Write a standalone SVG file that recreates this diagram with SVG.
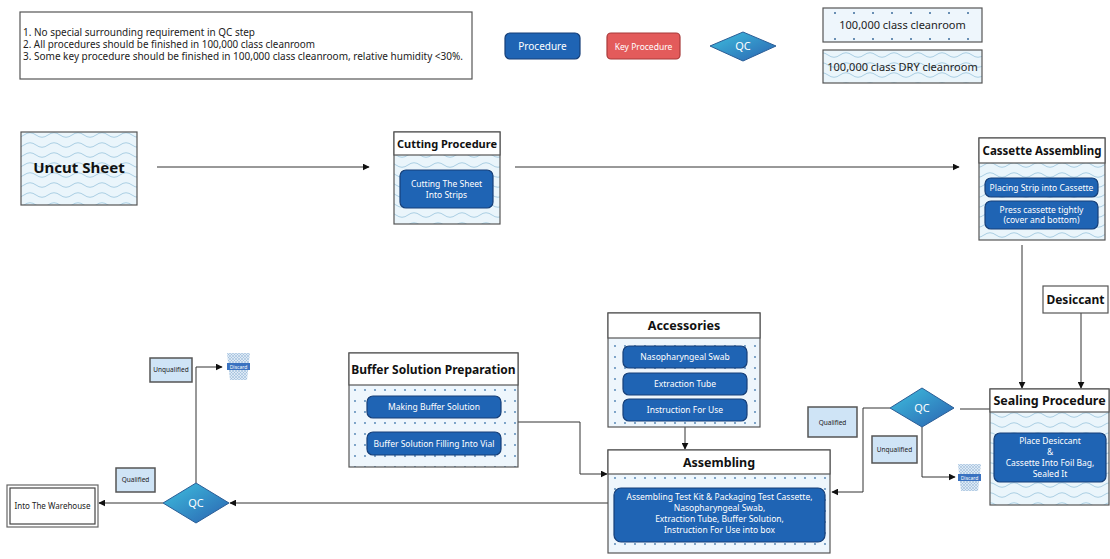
<svg xmlns="http://www.w3.org/2000/svg" width="1110" height="559" viewBox="0 0 1110 559">
<style>
.frame{fill:none;stroke:#555;stroke-width:1.2}
.hdrbg{fill:#fff;stroke:#555;stroke-width:1.2}
.hdr{font-family:"Noto Sans","Open Sans",sans-serif;font-weight:bold;font-size:12px;fill:#111;text-anchor:middle}
.proc{fill:#1f64b4;stroke:#163f78;stroke-width:1.2}
.pt{font-family:"Noto Sans","Open Sans",sans-serif;font-size:8.5px;fill:#fff;text-anchor:middle}
.lbl{fill:#cfe4f6;stroke:#555;stroke-width:1.5}
.lt{font-family:"Noto Sans","Open Sans",sans-serif;font-size:6.5px;fill:#222;text-anchor:middle}
.conn{fill:none;stroke:#333;stroke-width:1}
.leg{font-family:"Noto Sans","Open Sans",sans-serif;font-size:10px;fill:#222}
.qc{fill:url(#qcg);stroke:#2a5d96;stroke-width:1}
.qct{font-family:"Noto Sans","Open Sans",sans-serif;font-size:11px;fill:#fff;text-anchor:middle}
</style>
<defs>
<pattern id="wave" width="24" height="10" patternUnits="userSpaceOnUse">
<rect width="24" height="10" fill="#eaf5fb"/>
<path d="M0 5 Q6 0.5 12 5 T24 5" fill="none" stroke="#a3cae0" stroke-width="0.9"/>
</pattern>
<pattern id="dots" width="10" height="11" patternUnits="userSpaceOnUse">
<rect width="10" height="11" fill="#eef6fc"/>
<circle cx="5" cy="5" r="0.9" fill="#4a7fb0"/>
</pattern>
<pattern id="dots2" width="19" height="26" patternUnits="userSpaceOnUse" x="823" y="8">
<rect width="19" height="26" fill="#eef6fc"/>
<circle cx="12" cy="5" r="1" fill="#3c6d9c"/>
<circle cx="12" cy="31" r="1" fill="#3c6d9c"/>
</pattern>
<pattern id="hatch" width="3" height="3" patternUnits="userSpaceOnUse">
<rect width="3" height="3" fill="#dde9f5"/>
<path d="M0 0 L3 3 M3 0 L0 3" stroke="#8fb2d4" stroke-width="0.5"/>
</pattern>
<linearGradient id="qcg" x1="0" y1="0" x2="1" y2="1">
<stop offset="0" stop-color="#3ec0df"/>
<stop offset="1" stop-color="#2a62b0"/>
</linearGradient>
<marker id="arr" viewBox="0 0 10 10" refX="9" refY="5" markerWidth="7" markerHeight="7" orient="auto" markerUnits="userSpaceOnUse">
<path d="M0 0 L10 5 L0 10 Z" fill="#111"/>
</marker>
<g id="discard">
<path d="M0 0 L23 0 L20 27 L3 27 Z" fill="url(#hatch)"/>
<rect x="0" y="10" width="23" height="7" fill="#3a72c0"/>
<text x="11.5" y="15.5" font-family="Noto Sans, sans-serif" font-size="5px" fill="#fff" text-anchor="middle">Discard</text>
</g>
</defs>
<rect width="1110" height="559" fill="#fff"/>

<!-- legend -->
<g id="legend-notes">
<rect x="20" y="12" width="452" height="67" fill="#fff" stroke="#555" stroke-width="1.2"/>
<text class="leg" x="23" y="36" textLength="232" lengthAdjust="spacingAndGlyphs">1. No special surrounding requirement in QC step</text>
<text class="leg" x="23" y="48" textLength="292" lengthAdjust="spacingAndGlyphs">2. All procedures should be finished in 100,000 class cleanroom</text>
<text class="leg" x="23" y="60" textLength="440" lengthAdjust="spacingAndGlyphs">3. Some key procedure should be finished in 100,000 class cleanroom, relative humidity &lt;30%.</text>
</g>
<g id="legend-procedure">
<rect class="proc" x="505" y="33" width="75" height="26" rx="5"/>
<text class="pt" x="542.5" y="50" style="font-size:10px">Procedure</text>
</g>
<g id="legend-key">
<rect x="607" y="33" width="73" height="26" rx="4" fill="#e35b5b" stroke="#a83a3a" stroke-width="1.2"/>
<text class="pt" x="643.5" y="49.5" style="font-size:8.5px">Key Procedure</text>
</g>
<g id="legend-qc">
<polygon class="qc" points="710,46 743,32 776,46 743,61"/>
<text class="qct" x="743" y="50">QC</text>
</g>
<g id="legend-clean">
<rect x="823" y="8" width="159" height="34" fill="url(#dots2)" stroke="#555" stroke-width="1.2"/>
<text x="902.5" y="29" font-family="Noto Sans, sans-serif" font-size="11px" fill="#222" text-anchor="middle">100,000 class cleanroom</text>
</g>
<g id="legend-dry">
<rect x="823" y="50" width="159" height="33" fill="url(#wave)" stroke="#555" stroke-width="1.2"/>
<text x="902.5" y="71" font-family="Noto Sans, sans-serif" font-size="11px" fill="#222" text-anchor="middle">100,000 class DRY cleanroom</text>
</g>

<!-- connectors -->
<g id="connectors">
<line class="conn" x1="157" y1="167" x2="369" y2="167" marker-end="url(#arr)"/>
<line class="conn" x1="515" y1="167" x2="959" y2="167" marker-end="url(#arr)"/>
<line class="conn" x1="1022" y1="245" x2="1022" y2="388" marker-end="url(#arr)"/>
<line class="conn" x1="1081" y1="313" x2="1081" y2="388" marker-end="url(#arr)"/>
<line class="conn" x1="960" y1="409" x2="990" y2="409"/>
<polyline class="conn" points="890,408 863,408 863,492 832,492" marker-end="url(#arr)"/>
<polyline class="conn" points="922,427 922,477 955,477" marker-end="url(#arr)"/>
<line class="conn" x1="685" y1="427" x2="685" y2="449" marker-end="url(#arr)"/>
<line class="conn" x1="434" y1="418" x2="434" y2="431" marker-end="url(#arr)"/>
<polyline class="conn" points="518,422 580,422 580,474 607,474" marker-end="url(#arr)"/>
<line class="conn" x1="608" y1="503" x2="230" y2="503" marker-end="url(#arr)"/>
<line class="conn" x1="163" y1="503" x2="99" y2="503" marker-end="url(#arr)"/>
<polyline class="conn" points="196,483 196,367 222,367" marker-end="url(#arr)"/>
</g>

<!-- nodes -->
<g id="uncut-sheet">
<rect x="21" y="132" width="116" height="73" fill="url(#wave)" stroke="#555" stroke-width="1.2"/>
<text x="79" y="173" font-family="Noto Sans, sans-serif" font-weight="bold" font-size="15px" fill="#111" text-anchor="middle">Uncut Sheet</text>
</g>

<g id="cutting-procedure">
<rect x="394" y="132" width="106" height="92" fill="url(#wave)" stroke="#555" stroke-width="1.2"/>
<rect class="hdrbg" x="394" y="132" width="106" height="23"/>
<text class="hdr" x="447" y="148" style="font-size:11px">Cutting Procedure</text>
<rect class="proc" x="400" y="170" width="93" height="38" rx="6"/>
<text class="pt" x="446.5" y="187">Cutting The Sheet</text>
<text class="pt" x="446.5" y="198">Into Strips</text>
</g>

<g id="cassette-assembling">
<rect x="979" y="138" width="126" height="102" fill="url(#wave)" stroke="#555" stroke-width="1.2"/>
<rect class="hdrbg" x="979" y="138" width="126" height="25"/>
<text class="hdr" x="1042" y="155" style="font-size:11.5px">Cassette Assembling</text>
<rect class="proc" x="985" y="178" width="113" height="19" rx="6"/>
<text class="pt" x="1041.5" y="190.5">Placing Strip into Cassette</text>
<rect class="proc" x="985" y="201" width="113" height="28" rx="6"/>
<text class="pt" x="1041.5" y="212.5">Press cassette tightly</text>
<text class="pt" x="1041.5" y="223">(cover and bottom)</text>
</g>

<g id="desiccant">
<rect x="1043" y="286" width="65" height="27" fill="#fff" stroke="#555" stroke-width="1.2"/>
<text class="hdr" x="1075.5" y="304">Desiccant</text>
</g>

<g id="sealing-procedure">
<rect x="990" y="389" width="119" height="116" fill="url(#wave)" stroke="#555" stroke-width="1.2"/>
<rect class="hdrbg" x="990" y="389" width="119" height="23"/>
<text class="hdr" x="1049.5" y="405" style="font-size:12.5px">Sealing Procedure</text>
<rect class="proc" x="994" y="433" width="112" height="49" rx="6"/>
<text class="pt" x="1050" y="444">Place Desiccant</text>
<text class="pt" x="1050" y="455">&amp;</text>
<text class="pt" x="1050" y="466">Cassette Into Foil Bag,</text>
<text class="pt" x="1050" y="477">Sealed It</text>
</g>

<g id="qc-right">
<polygon class="qc" points="890,408 922,388 954,408 922,427"/>
<text class="qct" x="922" y="412">QC</text>
</g>
<g id="qualified-right">
<rect class="lbl" x="808" y="407" width="49" height="30"/>
<text class="lt" x="832.5" y="424.5">Qualified</text>
</g>
<g id="unqualified-right">
<rect class="lbl" x="872" y="436" width="45" height="27"/>
<text class="lt" x="894.5" y="452">Unqualified</text>
</g>
<g id="discard-right">
<use href="#discard" x="958" y="464"/>
</g>

<g id="accessories">
<rect x="608" y="313" width="152" height="114" fill="url(#dots)" stroke="#555" stroke-width="1.2"/>
<rect class="hdrbg" x="608" y="313" width="152" height="25"/>
<text class="hdr" x="684" y="330" style="font-size:12.5px">Accessories</text>
<rect class="proc" x="623" y="346" width="124" height="22" rx="6"/>
<text class="pt" x="685" y="360">Nasopharyngeal Swab</text>
<rect class="proc" x="623" y="373" width="124" height="22" rx="6"/>
<text class="pt" x="685" y="387">Extraction Tube</text>
<rect class="proc" x="623" y="399" width="124" height="22" rx="6"/>
<text class="pt" x="685" y="413">Instruction For Use</text>
</g>

<g id="assembling">
<rect x="608" y="450" width="222" height="103" fill="url(#dots)" stroke="#555" stroke-width="1.2"/>
<rect class="hdrbg" x="608" y="450" width="222" height="24"/>
<text class="hdr" x="719" y="467" style="font-size:12.5px">Assembling</text>
<rect class="proc" x="614" y="488" width="211" height="54" rx="7"/>
<text class="pt" x="719.5" y="500">Assembling Test Kit &amp; Packaging Test Cassette,</text>
<text class="pt" x="719.5" y="511">Nasopharyngeal Swab,</text>
<text class="pt" x="719.5" y="522">Extraction Tube, Buffer Solution,</text>
<text class="pt" x="719.5" y="533">Instruction For Use into box</text>
</g>

<g id="buffer-solution">
<rect x="349" y="353" width="169" height="114" fill="url(#dots)" stroke="#555" stroke-width="1.2"/>
<rect class="hdrbg" x="349" y="353" width="169" height="32"/>
<text class="hdr" x="433.5" y="374" style="font-size:12px">Buffer Solution Preparation</text>
<rect class="proc" x="367" y="396" width="134" height="22" rx="6"/>
<text class="pt" x="434" y="410">Making Buffer Solution</text>
<rect class="proc" x="367" y="432" width="134" height="23" rx="6"/>
<text class="pt" x="434" y="446.5">Buffer Solution Filling Into Vial</text>
</g>

<g id="qc-left">
<polygon class="qc" points="163,503 196,483 229,503 196,523"/>
<text class="qct" x="196" y="507">QC</text>
</g>
<g id="qualified-left">
<rect class="lbl" x="116" y="468" width="39" height="24"/>
<text class="lt" x="135.5" y="482">Qualified</text>
</g>
<g id="unqualified-left">
<rect class="lbl" x="150" y="358" width="42" height="24"/>
<text class="lt" x="171" y="372">Unqualified</text>
</g>
<g id="discard-left">
<use href="#discard" x="227" y="353"/>
</g>
<g id="warehouse">
<rect x="7" y="485" width="91" height="42" fill="#fff" stroke="#666" stroke-width="1.2"/>
<rect x="10" y="488" width="85" height="36" fill="#fff" stroke="#444" stroke-width="1.2"/>
<text x="52.5" y="509" font-family="Noto Sans, sans-serif" font-size="8px" fill="#222" text-anchor="middle">Into The Warehouse</text>
</g>
</svg>
